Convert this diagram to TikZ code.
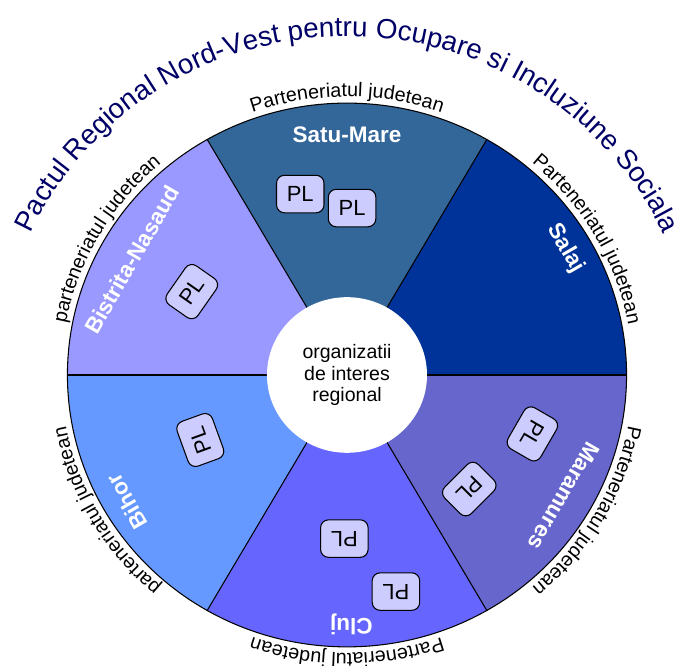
\documentclass[tikz,border=0pt]{standalone}
\usepackage{fontspec}
\setmainfont{Liberation Sans}
\usetikzlibrary{decorations.text}
\definecolor{satu}{HTML}{336699}
\definecolor{salaj}{HTML}{003399}
\definecolor{maramures}{HTML}{6666CC}
\definecolor{cluj}{HTML}{6666FF}
\definecolor{bihor}{HTML}{6699FF}
\definecolor{bistrita}{HTML}{9999FF}
\definecolor{plfill}{HTML}{CCCCFF}
\definecolor{titlenavy}{HTML}{000066}
\begin{document}
\begin{tikzpicture}[x=0.02cm, y=0.01946cm, line width=0.6pt,
    every node/.style={inner sep=0pt},
    judet/.style={text=white, font=\bfseries\fontsize{12.8}{15}\selectfont},
    pl/.style={draw, fill=plfill, rounded corners=4.5pt, minimum width=0.95cm,
               minimum height=0.75cm, font=\fontsize{12.5}{15}\selectfont},
    partener/.style={decorate, decoration={text along path, text align=center,
               text={|\fontsize{11.2}{13}\selectfont|#1}}}]
  \useasboundingbox (-6.94cm,-5.82cm) rectangle (6.56cm,7.5cm);
  % sectoare
  \foreach \a/\c in {0/salaj, 60/satu, 120/bistrita, 180/bihor, 240/cluj, 300/maramures}
    \fill[\c] (0,0) -- (\a:279.5) arc[start angle=\a, end angle=\a+60, radius=279.5] -- cycle;
  \draw (0,0) circle[radius=279.5];
  \foreach \a in {0,60,...,300}
    \draw (0,0) -- (\a:279.5);
  \fill[white] (0,0) circle[radius=80];
  \node[align=center, font=\fontsize{11.1}{12.2}\selectfont] (centru) at (0,0) {organizatii\\de interes\\regional};
  % judete
  \node[judet] (satumare) at (90:246.7) {Satu-Mare};
  \node[judet, rotate=-60] (salajname) at (30.8:254.5) {Salaj};
  \node[judet, rotate=-120] (maramuresname) at (-29.8:250) {Maramures};
  \node[judet, rotate=180] (clujname) at (-89:256) {Cluj};
  \node[judet, rotate=120] (bihorname) at (210.6:256) {Bihor};
  \node[judet, rotate=60] (bistritaname) at (151.2:245.6) {Bistrita-Nasaud};
  % parteneriate locale
  \node[pl] (pl1) at (104.1:191.8) {PL};
  \node[pl] (pl2) at (88.3:171.7) {PL};
  \node[pl, rotate=-120] (pl3) at (-18.1:195) {PL};
  \node[pl, rotate=-135] (pl4) at (-43.8:169.4) {PL};
  \node[pl, rotate=180] (pl5) at (-90.9:168.2) {PL};
  \node[pl, rotate=180] (pl6) at (-77.6:228) {PL};
  \node[pl, rotate=110] (pl7) at (204.5:161.2) {PL};
  \node[pl, rotate=55] (pl8) at (151.1:177.3) {PL};
  % texte pe arc
  \path[partener={Parteneriatul judetean}] (120:286) arc[start angle=120, end angle=60, radius=286];
  \path[partener={Parteneriatul judetean}] (60:286) arc[start angle=60, end angle=0, radius=286];
  \path[partener={Parteneriatul judetean}] (0:286) arc[start angle=0, end angle=-60, radius=286];
  \path[partener={Parteneriatul judetean}] (-60:286) arc[start angle=-60, end angle=-120, radius=286];
  \path[partener={parteneriatul judetean}] (-120:286) arc[start angle=-120, end angle=-180, radius=286];
  \path[partener={parteneriatul judetean}] (180:286) arc[start angle=180, end angle=120, radius=286];
  \path[decorate, decoration={text along path, text align=center, text color=titlenavy,
        text={|\fontsize{15.8}{19}\selectfont|Pactul Regional Nord-Vest pentru Ocupare si Incluziune Sociala}}]
    (180:348) arc[start angle=180, end angle=0, radius=348];
\end{tikzpicture}
\end{document}
